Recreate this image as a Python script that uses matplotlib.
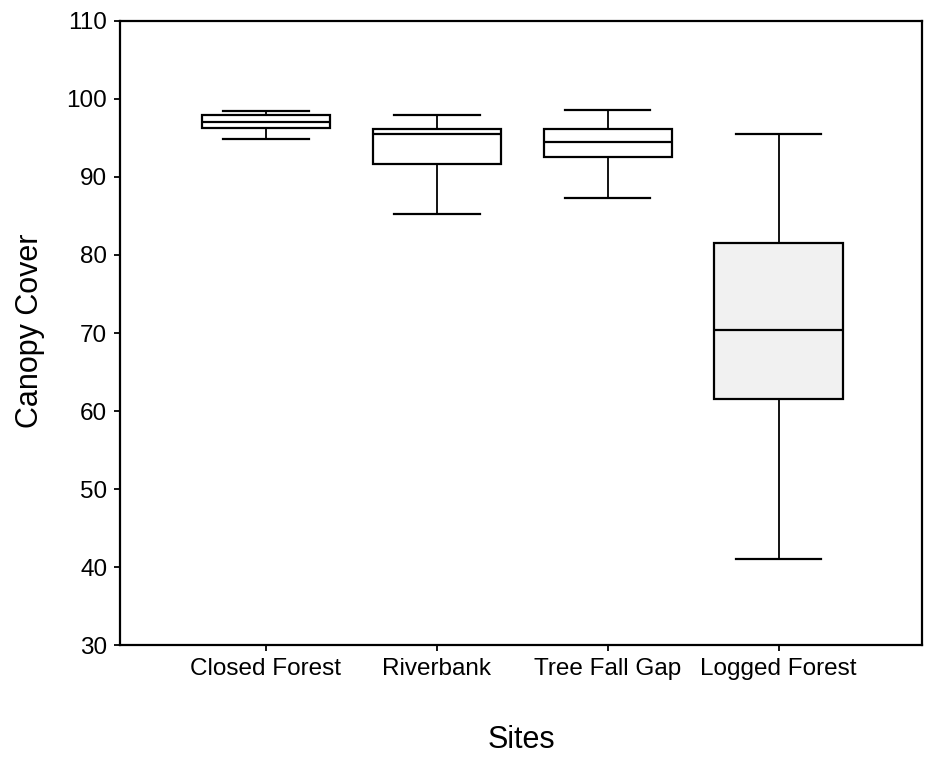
import matplotlib
matplotlib.use("Agg")
import matplotlib.pyplot as plt

plt.rcParams['font.family'] = ['Liberation Sans', 'DejaVu Sans']

# Five-number summaries of canopy cover per site
sites = ['Closed Forest', 'Riverbank', 'Tree Fall Gap', 'Logged Forest']
whisker_low = [94.9, 85.3, 87.3, 41.1]
q1 = [96.3, 91.6, 92.5, 61.6]
median = [97.1, 95.5, 94.5, 70.35]
q3 = [97.9, 96.2, 96.1, 81.5]
whisker_high = [98.5, 98.0, 98.6, 95.5]
box_fill = ['white', 'white', 'white', '#f1f1f1']

stats = []
for i, name in enumerate(sites):
    stats.append({'label': name, 'whislo': whisker_low[i], 'q1': q1[i],
                  'med': median[i], 'q3': q3[i], 'whishi': whisker_high[i],
                  'fliers': []})

fig = plt.figure(figsize=(9.29, 7.59), dpi=100)
ax = fig.add_axes([0.129, 0.150, 0.8635, 0.8225])

lw = 1.6
bp = ax.bxp(stats, positions=range(1, len(sites) + 1), widths=0.75,
            patch_artist=True, showfliers=False,
            boxprops=dict(linewidth=lw, edgecolor='black'),
            medianprops=dict(linewidth=lw, color='black'),
            whiskerprops=dict(linewidth=1.3, color='black'),
            capprops=dict(linewidth=lw, color='black'),
            capwidths=0.5)
for patch, c in zip(bp['boxes'], box_fill):
    patch.set_facecolor(c)

ax.set_xlim(0.145, 4.84)
ax.set_ylim(30, 110)
ax.set_yticks(range(30, 111, 10))

for s in ax.spines.values():
    s.set_linewidth(1.6)

ax.tick_params(axis='both', direction='out', length=4, width=1.3,
               labelsize=17.5, colors='black')
ax.tick_params(axis='y', pad=5)
ax.tick_params(axis='x', pad=5)

ax.set_ylabel('Canopy Cover', fontsize=22, va='center')
ax.yaxis.set_label_coords(-0.112, 0.504)
ax.set_xlabel('Sites', fontsize=22, va='center')
ax.xaxis.set_label_coords(0.5, -0.152)

fig.savefig('out.png', dpi=100)
